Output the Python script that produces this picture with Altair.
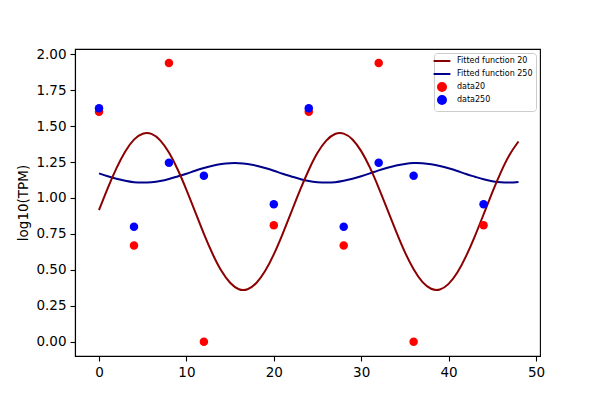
import altair as alt
import pandas as pd

# measured sample times and values
time = [0, 4, 8, 12, 20, 24, 28, 32, 36, 44]
data20 = [1.60, 0.67, 1.94, 0.00, 0.81, 1.60, 0.67, 1.94, 0.00, 0.81]
data250 = [1.625, 0.80, 1.245, 1.155, 0.956, 1.625, 0.80, 1.245, 1.155, 0.956]

# fitted curves at every unit of x
fit_x = list(range(49))
fit20 = [0.916, 1.069, 1.208, 1.324, 1.406, 1.447, 1.446, 1.401, 1.316, 1.198,
         1.057, 0.904, 0.750, 0.610, 0.493, 0.410, 0.365, 0.365, 0.408, 0.491,
         0.607, 0.748, 0.901, 1.054, 1.195, 1.314, 1.399, 1.445, 1.448, 1.407,
         1.326, 1.211, 1.071, 0.919, 0.766, 0.623, 0.504, 0.416, 0.368, 0.363,
         0.402, 0.481, 0.595, 0.733, 0.885, 1.039, 1.182, 1.303, 1.393]
fit250 = [1.171, 1.151, 1.134, 1.120, 1.110, 1.107, 1.110, 1.118, 1.132, 1.150,
          1.169, 1.190, 1.209, 1.225, 1.236, 1.242, 1.242, 1.236, 1.225, 1.209,
          1.190, 1.169, 1.150, 1.132, 1.118, 1.110, 1.107, 1.110, 1.120, 1.134,
          1.151, 1.171, 1.192, 1.210, 1.226, 1.237, 1.243, 1.242, 1.235, 1.223,
          1.207, 1.188, 1.167, 1.148, 1.130, 1.117, 1.109, 1.107, 1.111]

series = ["Fitted function 20", "Fitted function 250", "data20", "data250"]
colors = ["#8b0000", "#00008b", "#ff0000", "#0000ff"]
line_path = "M-2.1,0L2.1,0"
shapes = [line_path, line_path, "circle", "circle"]

x_ticks = [0, 10, 20, 30, 40, 50]
y_ticks = [0.0, 0.25, 0.5, 0.75, 1.0, 1.25, 1.5, 1.75, 2.0]

lines = pd.DataFrame({
    "x": fit_x + fit_x,
    "y": fit20 + fit250,
    "series": [series[0]] * len(fit_x) + [series[1]] * len(fit_x),
})
pts = pd.DataFrame({
    "x": time + time,
    "y": data20 + data250,
    "series": [series[2]] * len(time) + [series[3]] * len(time),
})

legend = alt.Legend(
    title=None, orient="top-right", offset=4, padding=3,
    strokeColor="#cccccc", fillColor="white", cornerRadius=3,
    labelFont="DejaVu Sans", labelFontSize=8, labelColor="black",
    labelOffset=10, rowPadding=-4, symbolStrokeWidth=2, symbolSize=64,
    gridAlign="all",
)
cscale = alt.Scale(domain=series, range=colors)
color = alt.Color("series:N", scale=cscale, legend=legend)

xenc = alt.X("x:Q", scale=alt.Scale(domain=[-2.75, 50.46], nice=False, zero=False),
             axis=alt.Axis(values=x_ticks, title=None, grid=False, format="d"))
yenc = alt.Y("y:Q", scale=alt.Scale(domain=[-0.1, 2.037], nice=False, zero=False),
             axis=alt.Axis(values=y_ticks, format=".2f", title="log10(TPM)", grid=False))

blue_line = alt.Chart(lines).transform_filter(
    alt.datum.series == series[1]
).mark_line(strokeWidth=2, interpolate="natural").encode(x=xenc, y=yenc, color=color)

red_line = alt.Chart(lines).transform_filter(
    alt.datum.series == series[0]
).mark_line(strokeWidth=2, interpolate="natural").encode(x=xenc, y=yenc, color=color)

points = alt.Chart(pts).mark_point(filled=True, opacity=1, strokeWidth=0, size=72).encode(
    x=xenc, y=yenc, color=color,
    stroke=alt.Stroke("series:N", scale=cscale, legend=legend),
    shape=alt.Shape("series:N", scale=alt.Scale(domain=series, range=shapes), legend=legend),
)

chart = alt.layer(blue_line, red_line, points).properties(
    width=465, height=307,
    autosize=alt.AutoSizeParams(type="none"),
    padding={"left": 67, "top": 41, "right": 52, "bottom": 36},
).configure_view(
    stroke="black", strokeWidth=1.1
).configure_axis(
    domainColor="black", domainWidth=1.1, tickColor="black", tickWidth=1.1, tickSize=5,
    labelFont="DejaVu Sans", labelFontSize=13.5, labelColor="black", labelPadding=4,
    titleFont="DejaVu Sans", titleFontSize=13.5, titleColor="black", titleFontWeight="normal",
    titlePadding=5,
)

chart.save("out.html", embed_options={"renderer": "svg", "actions": False})
